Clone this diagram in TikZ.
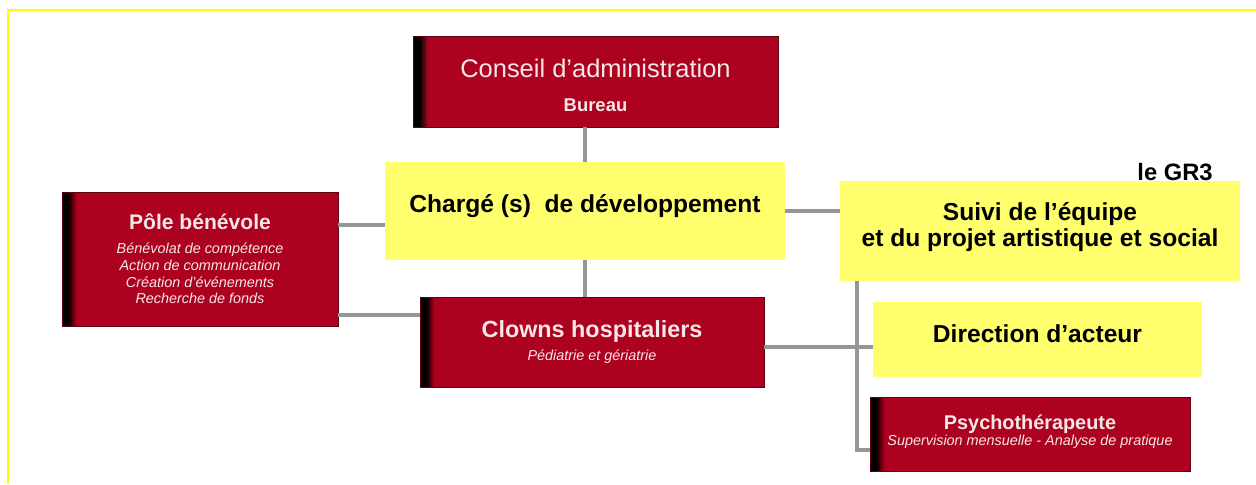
\documentclass[tikz,border=0pt]{standalone}
\usepackage{fontspec}
\setmainfont{Liberation Sans}
\usepackage{tikz}
\definecolor{boxred}{RGB}{172,2,32}
\definecolor{boxtext}{RGB}{246,230,230}
\definecolor{noteyellow}{RGB}{255,255,110}
\definecolor{linkgrey}{RGB}{150,150,150}
\definecolor{frameyellow}{RGB}{255,250,0}
\def\framelines{(8,484) -- (8,10) -- (1256,10)}
\def\bigtitle{\fontsize{14}{14.7}\selectfont\bfseries}
\def\midtitle{\fontsize{12}{14}\selectfont\bfseries\upshape}
\def\subline{\fontsize{8.2}{9.5}\selectfont\itshape}
\tikzset{
  redbox/.style={fill=boxred, draw=boxred!55!black, line width=0.5pt, text=boxtext,
    align=center, inner sep=0pt,
    path picture={\foreach \i/\p in {0/0,1/0,2/0,3/5,4/25,5/50,6/75}
      \fill[boxred!\p!black] ([xshift=\i*0.04cm]path picture bounding box.north west)
        rectangle ([xshift=\i*0.04cm+0.04cm]path picture bounding box.south west);}},
  yellowbox/.style={fill=noteyellow, text=black, align=center, inner sep=0pt, font=\bigtitle},
  link/.style={draw=linkgrey, line width=2.3pt},
}

\begin{document}
\begin{tikzpicture}[x=0.02cm, y=-0.02cm]
	\useasboundingbox (0,0) rectangle (1256,484);
	\draw[frameyellow, line width=1.2pt] \framelines;

	% boxes
	\node[redbox, minimum width=7.3cm, minimum height=1.82cm] (conseil) at (595.5,81.5)
		{{\fontsize{14.5}{17}\selectfont\rule{0pt}{14.6pt}Conseil d’administration}\\[7.3pt]
		 {\fontsize{10.5}{12}\selectfont\bfseries Bureau}};
	\node[yellowbox, minimum width=8cm, minimum height=1.96cm] (charge) at (585,211)
		{Chargé (s)\ \ de développement\rule[-8.6pt]{0pt}{0pt}};
	\node[redbox, minimum width=5.52cm, minimum height=2.68cm, font=\subline] (pole) at (200,259)
		{{\midtitle Pôle bénévole}\\[4pt]
		 Bénévolat de compétence\\
		 Action de communication\\
		 Création d’événements\\
		 Recherche de fonds};
	\node[redbox, minimum width=6.88cm, minimum height=1.8cm] (clowns) at (592,342)
		{{\fontsize{13.3}{15}\selectfont\bfseries Clowns hospitaliers}\\[1pt]{\subline Pédiatrie et gériatrie}};
	\node[yellowbox, minimum width=8cm, minimum height=2cm] (suivi) at (1040,231)
		{Suivi de l’équipe\\et du projet artistique et social\rule[-7.6pt]{0pt}{0pt}};
	\node[font=\fontsize{13.5}{15}\selectfont\bfseries] (gr) at (1175,172) {le GR3};
	\node[yellowbox, minimum width=6.58cm, minimum height=1.5cm] (direction) at (1037.5,339.5)
		{Direction d’acteur\rule[-6.8pt]{0pt}{0pt}};
	\node[redbox, minimum width=6.4cm, minimum height=1.48cm] (psy) at (1030,434)
		{{\fontsize{11.3}{13}\selectfont\bfseries Psychothérapeute}\\[-3pt]{\subline Supervision mensuelle - Analyse de pratique}\rule[-4pt]{0pt}{0pt}};

	% links
	\draw[link] (charge.north) -- (charge.north |- conseil.south);
	\draw[link] (charge.south) -- (charge.south |- clowns.north);
	\draw[link] ([yshift=-0.28cm]charge.west) -- ([yshift=-0.28cm]charge.west -| pole.east);
	\draw[link] ([yshift=0.54cm]clowns.west) -- ([yshift=0.54cm]clowns.west -| pole.east);
	\draw[link] (charge.east) -- (charge.east -| suivi.west);
	\draw[link] ([yshift=-0.1cm]clowns.east) -- ([yshift=-0.1cm]clowns.east -| direction.west);
	\draw[link] ([xshift=0.34cm]suivi.south west) |- ([yshift=-0.32cm]psy.west);
\end{tikzpicture}
\end{document}
